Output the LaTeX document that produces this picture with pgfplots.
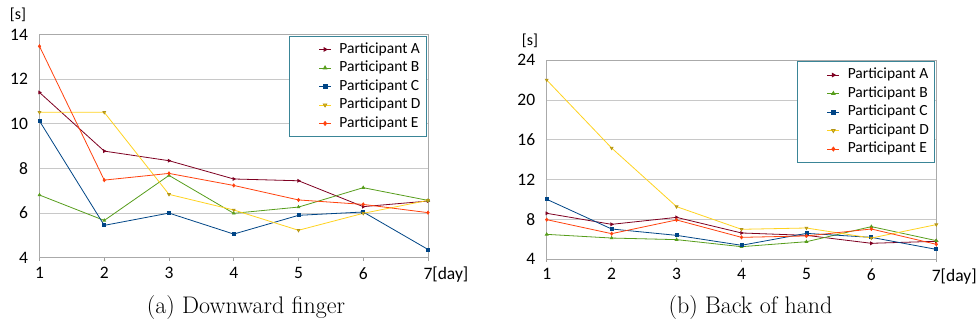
\documentclass[border=0pt]{standalone}
\usepackage{fontspec}
\usepackage{pgfplots}
\pgfplotsset{compat=1.18}
\newfontfamily\carlito{Carlito}
\definecolor{cA}{HTML}{7E0021}
\definecolor{cB}{HTML}{579D1C}
\definecolor{cC}{HTML}{004586}
\definecolor{cD}{HTML}{FFD320}
\definecolor{cE}{HTML}{FF420E}
\definecolor{legframe}{HTML}{3A8597}
\definecolor{gridc}{HTML}{C8C8C8}
\pgfplotsset{
  mystyle/.style={
    scale only axis,
    xmin=1, xmax=7,
    xtick={1,2,3,4,5,6,7},
    xticklabels={1,2,3,4,5,6,7\rlap{[day]}},
    xtick pos=bottom, ytick pos=left,
    tick align=outside,
    major tick length=3pt,
    ytick style={draw=none},
    xtick style={draw=gridc!80!black, line width=0.8pt},
    axis line style={draw=gridc!85!black, line width=0.9pt},
    ymajorgrids,
    major grid style={draw=gridc, line width=0.9pt},
    /pgf/number format/assume math mode=true,
    ticklabel style={font=\carlito\fontsize{17.5}{20}\selectfont},
    yticklabel style={xshift=-5pt},
    xticklabel style={yshift=-3pt},
    every axis plot/.append style={line width=0.8pt, mark size=1.5pt},
    legend style={
      at={(1,1)}, anchor=north east, xshift=-1pt, yshift=-1pt,
      draw=legframe, line width=1pt,
      font=\carlito\fontsize{15.5}{18}\selectfont,
      inner xsep=4pt, inner ysep=4pt,
      nodes={inner sep=2pt, text height=11pt, text depth=3.5pt},
      cells={anchor=west},
    },
    legend image code/.code={
      \path (-25pt,0pt) (18pt,0pt);
      \draw[mark repeat=2, mark phase=2, mark size=2pt] plot coordinates {(0pt,0pt) (6pt,0pt) (12pt,0pt)};
    },
  },
  pA/.style={color=cA, mark=triangle*, mark options={rotate=-90, fill=cA}},
  pB/.style={color=cB, mark=triangle*, mark options={fill=cB}},
  pC/.style={color=cC, mark=square*, mark options={fill=cC}},
  pD/.style={color=cD, mark=triangle*, mark options={rotate=180, fill=cD, draw=cD!70!black}},
  pE/.style={color=cE, mark=diamond*, mark options={fill=cE}},
}
\begin{document}
\begin{tikzpicture}
\useasboundingbox (0,0) rectangle (979pt,327pt);
\begin{axis}[mystyle, at={(39.5pt,69.3pt)}, anchor=south west,
  width=388.5pt, height=223pt, ymin=4, ymax=14, ytick={4,6,8,10,12,14}]
\addplot[pA] coordinates {(1,11.41) (2,8.78) (3,8.35) (4,7.53) (5,7.45) (6,6.29) (7,6.54)};
\addlegendentry{Participant A}
\addplot[pB] coordinates {(1,6.81) (2,5.67) (3,7.69) (4,5.99) (5,6.27) (6,7.14) (7,6.57)};
\addlegendentry{Participant B}
\addplot[pC] coordinates {(1,10.13) (2,5.45) (3,6.00) (4,5.06) (5,5.90) (6,6.05) (7,4.37)};
\addlegendentry{Participant C}
\addplot[pD] coordinates {(1,10.52) (2,10.52) (3,6.84) (4,6.14) (5,5.23) (6,5.99) (7,6.57)};
\addlegendentry{Participant D}
\addplot[pE] coordinates {(1,13.48) (2,7.48) (3,7.78) (4,7.24) (5,6.59) (6,6.39) (7,6.02)};
\addlegendentry{Participant E}
\end{axis}
\begin{axis}[mystyle, at={(546.7pt,68pt)}, anchor=south west,
  width=389.6pt, height=198.7pt, ymin=4, ymax=24, ytick={4,8,12,16,20,24}]
\addplot[pA] coordinates {(1,8.60) (2,7.49) (3,8.19) (4,6.62) (5,6.38) (6,5.58) (7,5.78)};
\addlegendentry{Participant A}
\addplot[pB] coordinates {(1,6.48) (2,6.11) (3,5.95) (4,5.24) (5,5.74) (6,7.26) (7,5.85)};
\addlegendentry{Participant B}
\addplot[pC] coordinates {(1,10.01) (2,7.02) (3,6.38) (4,5.38) (5,6.58) (6,6.18) (7,4.97)};
\addlegendentry{Participant C}
\addplot[pD] coordinates {(1,22.02) (2,15.17) (3,9.27) (4,6.99) (5,7.12) (6,6.11) (7,7.46)};
\addlegendentry{Participant D}
\addplot[pE] coordinates {(1,7.96) (2,6.55) (3,7.93) (4,6.18) (5,6.32) (6,7.02) (7,5.48)};
\addlegendentry{Participant E}
\end{axis}
\node[font=\carlito\fontsize{16}{19}\selectfont] at (18pt,312pt) {[s]};
\node[font=\carlito\fontsize{16}{19}\selectfont] at (530pt,286pt) {[s]};
\node[font=\fontsize{24}{28}\selectfont] at (246pt,19pt) {(a) Downward finger};
\node[font=\fontsize{24}{28}\selectfont] at (750.5pt,19pt) {(b) Back of hand};
\end{tikzpicture}
\end{document}
